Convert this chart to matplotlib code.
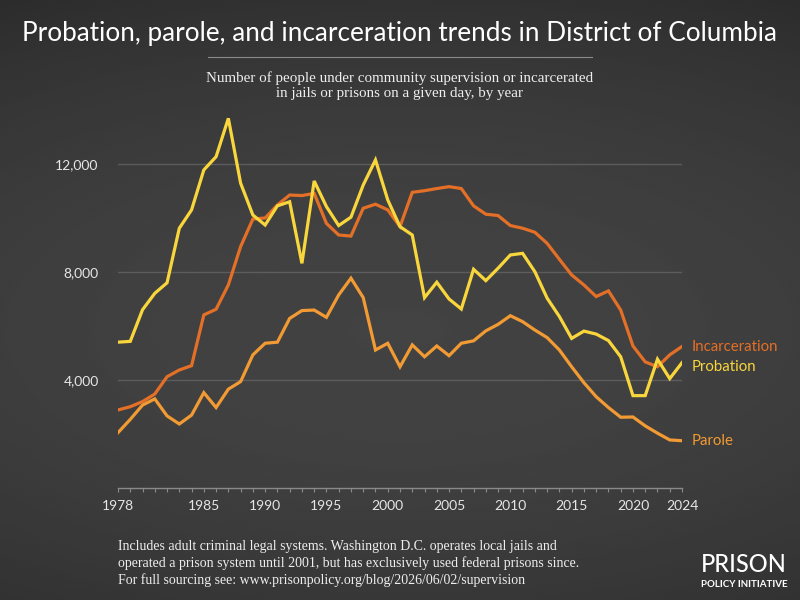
import numpy as np
import matplotlib
matplotlib.use("Agg")
import matplotlib.pyplot as plt
from matplotlib.ticker import FuncFormatter, MultipleLocator

# Data
years = list(range(1978, 2025))

incarceration = [2890, 3010, 3200, 3480, 4120, 4370, 4530, 6410, 6620, 7520,
                 8940, 9960, 10000, 10480, 10850, 10830, 10910, 9800, 9370, 9330,
                 10360, 10510, 10300, 9680, 10950, 11010, 11090, 11160, 11090, 10450,
                 10140, 10090, 9720, 9620, 9470, 9060, 8470, 7890, 7520, 7090,
                 7300, 6590, 5260, 4670, 4490, 4930, 5240]

probation = [5400, 5430, 6600, 7210, 7600, 9620, 10300, 11780, 12270, 13690,
             11290, 10110, 9740, 10450, 10600, 8320, 11370, 10420, 9720, 10030,
             11220, 12150, 10670, 9680, 9370, 7050, 7620, 7000, 6630, 8100,
             7680, 8140, 8630, 8690, 8010, 7030, 6350, 5540, 5810, 5700,
             5460, 4860, 3420, 3420, 4770, 4050, 4640]

parole = [2050, 2540, 3070, 3300, 2670, 2370, 2700, 3530, 2980, 3660,
          3940, 4930, 5360, 5400, 6280, 6570, 6590, 6320, 7150, 7770,
          7050, 5110, 5360, 4490, 5300, 4860, 5260, 4900, 5360, 5450,
          5820, 6060, 6380, 6160, 5850, 5570, 5110, 4490, 3900, 3380,
          2980, 2620, 2630, 2300, 2030, 1780, 1750]

series = ["Incarceration", "Probation", "Parole"]
values = {"Incarceration": incarceration, "Probation": probation, "Parole": parole}
colors = {"Incarceration": "#e46f27", "Probation": "#f8d63c", "Parole": "#f29a33"}
label_y = {"Incarceration": 5220, "Probation": 4480, "Parole": 1740}

x_labels = [1978, 1985, 1990, 1995, 2000, 2005, 2010, 2015, 2020, 2024]
y_ticks = [4000, 8000, 12000]

sans = ["Lato", "DejaVu Sans"]
serif = ["Liberation Serif", "DejaVu Serif"]

fig = plt.figure(figsize=(8, 6), dpi=100)

# background with a soft gradient (lighter in the middle, darker at the edges)
bg = fig.add_axes([0, 0, 1, 1], zorder=-10)
yy, xx = np.mgrid[0:1:400j, 0:1:400j]
shade = 0.262 - 0.055 * ((yy - 0.55) * 2) ** 2 - 0.02 * ((xx - 0.5) * 2) ** 2
bg.imshow(shade, cmap="gray", vmin=0, vmax=1, aspect="auto",
          extent=[0, 1, 0, 1], interpolation="bicubic")
bg.set_axis_off()

ax = fig.add_axes([0.1475, 0.1867, 0.705, 0.63])
ax.set_facecolor("none")

for name in series:
    ax.plot(years, values[name], color=colors[name], linewidth=2.3,
            solid_joinstyle="miter", zorder=3)
    ax.text(years[-1] + 0.8, label_y[name], name, color=colors[name],
            fontsize=10.8, family=sans, ha="left", va="center")

ax.set_xlim(1978, 2024)
ax.set_ylim(0, 14000)

ax.set_xticks(x_labels)
ax.xaxis.set_minor_locator(MultipleLocator(1))
ax.tick_params(axis="x", which="both", direction="out", length=3, width=0.8,
               color="#8a8a8a", labelcolor="#e6e6e6", labelsize=10, pad=6)
ax.set_yticks(y_ticks)
ax.yaxis.set_major_formatter(FuncFormatter(lambda v, p: f"{int(v):,}"))
ax.tick_params(axis="y", length=0, labelcolor="#e6e6e6", labelsize=10, pad=14)
for lbl in ax.get_xticklabels() + ax.get_yticklabels():
    lbl.set_family(sans)

ax.grid(axis="y", color="#5c5c5c", linewidth=1)
ax.set_axisbelow(True)
for s in ["top", "right", "left"]:
    ax.spines[s].set_visible(False)
ax.spines["bottom"].set_color("#8a8a8a")
ax.spines["bottom"].set_linewidth(1)

# titles
fig.text(0.5, 0.945, "Probation, parole, and incarceration trends in District of Columbia",
         color="white", fontsize=18.8, family=sans, ha="center", va="center")
fig.add_artist(plt.Line2D([0.26, 0.74], [0.905, 0.905], color="#8a8a8a", linewidth=0.8))
fig.text(0.5, 0.857, "Number of people under community supervision or incarcerated\n"
         "in jails or prisons on a given day, by year",
         color="#eeeeee", fontsize=10.8, family=serif, ha="center", va="center",
         linespacing=1.25)

# footnote
fig.text(0.1475, 0.022, "Includes adult criminal legal systems. Washington D.C. operates local jails and\n"
         "operated a prison system until 2001, but has exclusively used federal prisons since.\n"
         "For full sourcing see: www.prisonpolicy.org/blog/2026/06/02/supervision",
         color="#eeeeee", fontsize=10, family=serif, ha="left", va="bottom",
         linespacing=1.3)

# logo
fig.text(0.93, 0.04, "PRISON", color="white", fontsize=17, family=sans,
         ha="center", va="bottom", fontweight="medium")
fig.text(0.93, 0.018, "POLICY INITIATIVE", color="white", fontsize=7, family=sans,
         ha="center", va="bottom", fontweight="bold")

fig.savefig("out.png", dpi=100)
